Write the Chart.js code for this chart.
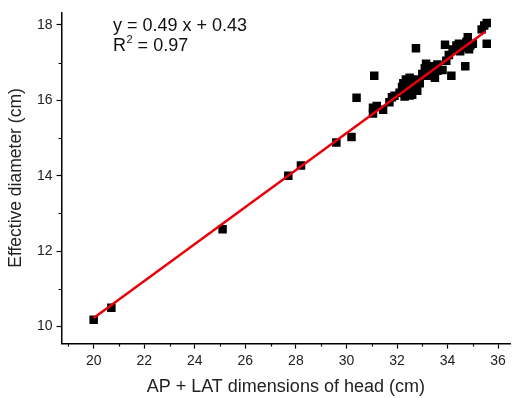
<!DOCTYPE html>
<html>
<head>
<meta charset="utf-8">
<script src="https://cdn.jsdelivr.net/npm/chart.js@4"></script>
<style>
  body { margin: 0; background: #fff; }
  #wrap { width: 516px; height: 398px; }
</style>
</head>
<body>
<div id="wrap"><canvas id="chart"></canvas></div>
<script>
// measured points: head AP+LAT (cm) vs effective diameter (cm)
const headSize = [
  20.0, 20.7, 25.1, 27.7, 28.2, 29.6, 30.2, 30.4, 31.1, 31.05,
  31.05, 31.2, 31.45, 31.7, 31.8, 31.9, 32.1, 32.2, 32.25, 32.3,
  32.35, 32.4, 32.45, 32.5, 32.5, 32.6, 32.6, 32.7, 32.75, 32.8,
  32.75, 32.9, 33.0, 33.1, 33.15, 33.2, 33.3, 33.4, 33.5, 33.6,
  33.6, 33.8, 33.9, 33.95, 34.05, 34.15, 34.2, 34.35, 34.45, 34.5,
  34.6, 34.7, 34.75, 34.8, 34.9, 34.85, 35.0, 35.35, 35.45, 35.55,
  35.55
];
const effDiameter = [
  10.18, 10.5, 12.58, 14.0, 14.27, 14.88, 15.03, 16.07, 16.65, 15.65,
  15.8, 15.85, 15.75, 15.95, 16.08, 16.12, 16.2, 16.35, 16.45, 16.1,
  16.55, 16.2, 16.4, 16.6, 16.13, 16.5, 16.15, 16.3, 16.55, 16.25,
  17.38, 16.45, 16.7, 16.85, 16.97, 16.65, 16.75, 16.9, 16.6, 16.78,
  16.95, 16.8, 17.47, 17.05, 17.2, 16.65, 17.35, 17.45, 17.5, 17.3,
  17.4, 16.9, 17.55, 17.67, 17.45, 17.35, 17.5, 17.88, 17.98, 18.05,
  17.5
];
const fitX = [20.0, 35.5];
const slope = 0.49, intercept = 0.43;
const fitLabel = 'y = 0.49 x + 0.43';
const r2Label = '0.97';

const points = headSize.map((x, i) => ({ x: x, y: effDiameter[i] }));
const fitLine = fitX.map(x => ({ x: x, y: slope * x + intercept }));

const FONT = '"Liberation Sans", Arial, sans-serif';

function intTicks(from, to) {
  const t = [];
  for (let v = from; v <= to; v++) t.push({ value: v });
  return t;
}

// short minor ticks at odd values + equation text
const extras = {
  id: 'extras',
  afterDraw(chart) {
    const ctx = chart.ctx;
    const xs = chart.scales.x, ys = chart.scales.y;
    ctx.save();
    ctx.strokeStyle = '#000';
    ctx.lineWidth = 1.2;
    ctx.beginPath();
    xs.ticks.forEach(t => {
      if (t.value % 2 !== 0) {
        const px = Math.round(xs.getPixelForValue(t.value)) + 0.5;
        ctx.moveTo(px, xs.top); ctx.lineTo(px, xs.top + 3);
      }
    });
    ys.ticks.forEach(t => {
      if (t.value % 2 !== 0) {
        const py = Math.round(ys.getPixelForValue(t.value)) + 0.5;
        ctx.moveTo(ys.right, py); ctx.lineTo(ys.right - 3, py);
      }
    });
    ctx.stroke();

    ctx.fillStyle = '#111';
    ctx.textBaseline = 'alphabetic';
    ctx.font = '18px ' + FONT;
    const tx = 113;
    ctx.fillText(fitLabel, tx, 31);
    ctx.fillText('R', tx, 51);
    let w = ctx.measureText('R').width;
    ctx.font = '11px ' + FONT;
    ctx.fillText('2', tx + w + 0.5, 43);
    w += ctx.measureText('2').width + 0.5;
    ctx.font = '18px ' + FONT;
    ctx.fillText(' = ' + r2Label, tx + w, 51);
    ctx.restore();
  }
};

new Chart(document.getElementById('chart'), {
  type: 'scatter',
  data: {
    datasets: [
      {
        label: 'data',
        data: points,
        pointStyle: 'rect',
        pointRadius: 6,
        pointHoverRadius: 6,
        backgroundColor: '#000',
        borderColor: '#000',
        borderWidth: 0,
        order: 2
      },
      {
        label: 'fit',
        type: 'line',
        data: fitLine,
        borderColor: '#e8000b',
        borderWidth: 2.5,
        pointRadius: 0,
        fill: false,
        order: 1
      }
    ]
  },
  options: {
    responsive: true,
    maintainAspectRatio: false,
    animation: false,
    layout: { padding: { top: 0, right: 0, left: 6, bottom: 0 } },
    plugins: { legend: { display: false }, tooltip: { enabled: false } },
    scales: {
      x: {
        type: 'linear',
        min: 18.73,
        max: 36.47,
        afterBuildTicks: s => { s.ticks = intTicks(19, 36); },
        border: { display: true, color: '#000', width: 1.5 },
        grid: {
          drawOnChartArea: false,
          drawTicks: true,
          tickLength: 5,
          tickWidth: 1.2,
          tickColor: c => (c.tick && c.tick.value % 2 === 0) ? '#000' : 'rgba(0,0,0,0)'
        },
        ticks: {
          autoSkip: false,
          maxRotation: 0,
          padding: 4,
          color: '#222',
          font: { family: FONT, size: 14 },
          callback: v => (v % 2 === 0 ? String(v) : '')
        },
        title: {
          display: true,
          text: 'AP + LAT dimensions of head (cm)',
          color: '#222',
          font: { family: FONT, size: 18 },
          padding: { top: 3, bottom: 0 }
        }
      },
      y: {
        type: 'linear',
        min: 9.55,
        max: 18.33,
        afterBuildTicks: s => { s.ticks = intTicks(10, 18); },
        border: { display: true, color: '#000', width: 1.5 },
        grid: {
          drawOnChartArea: false,
          drawTicks: true,
          tickLength: 5,
          tickWidth: 1.2,
          tickColor: c => (c.tick && c.tick.value % 2 === 0) ? '#000' : 'rgba(0,0,0,0)'
        },
        ticks: {
          autoSkip: false,
          padding: 4,
          color: '#222',
          font: { family: FONT, size: 14 },
          callback: v => (v % 2 === 0 ? String(v) : '')
        },
        title: {
          display: true,
          text: 'Effective diameter (cm)',
          color: '#222',
          font: { family: FONT, size: 17.5 },
          padding: { top: 0, bottom: 6 }
        }
      }
    }
  },
  plugins: [extras]
});
</script>
</body>
</html>
